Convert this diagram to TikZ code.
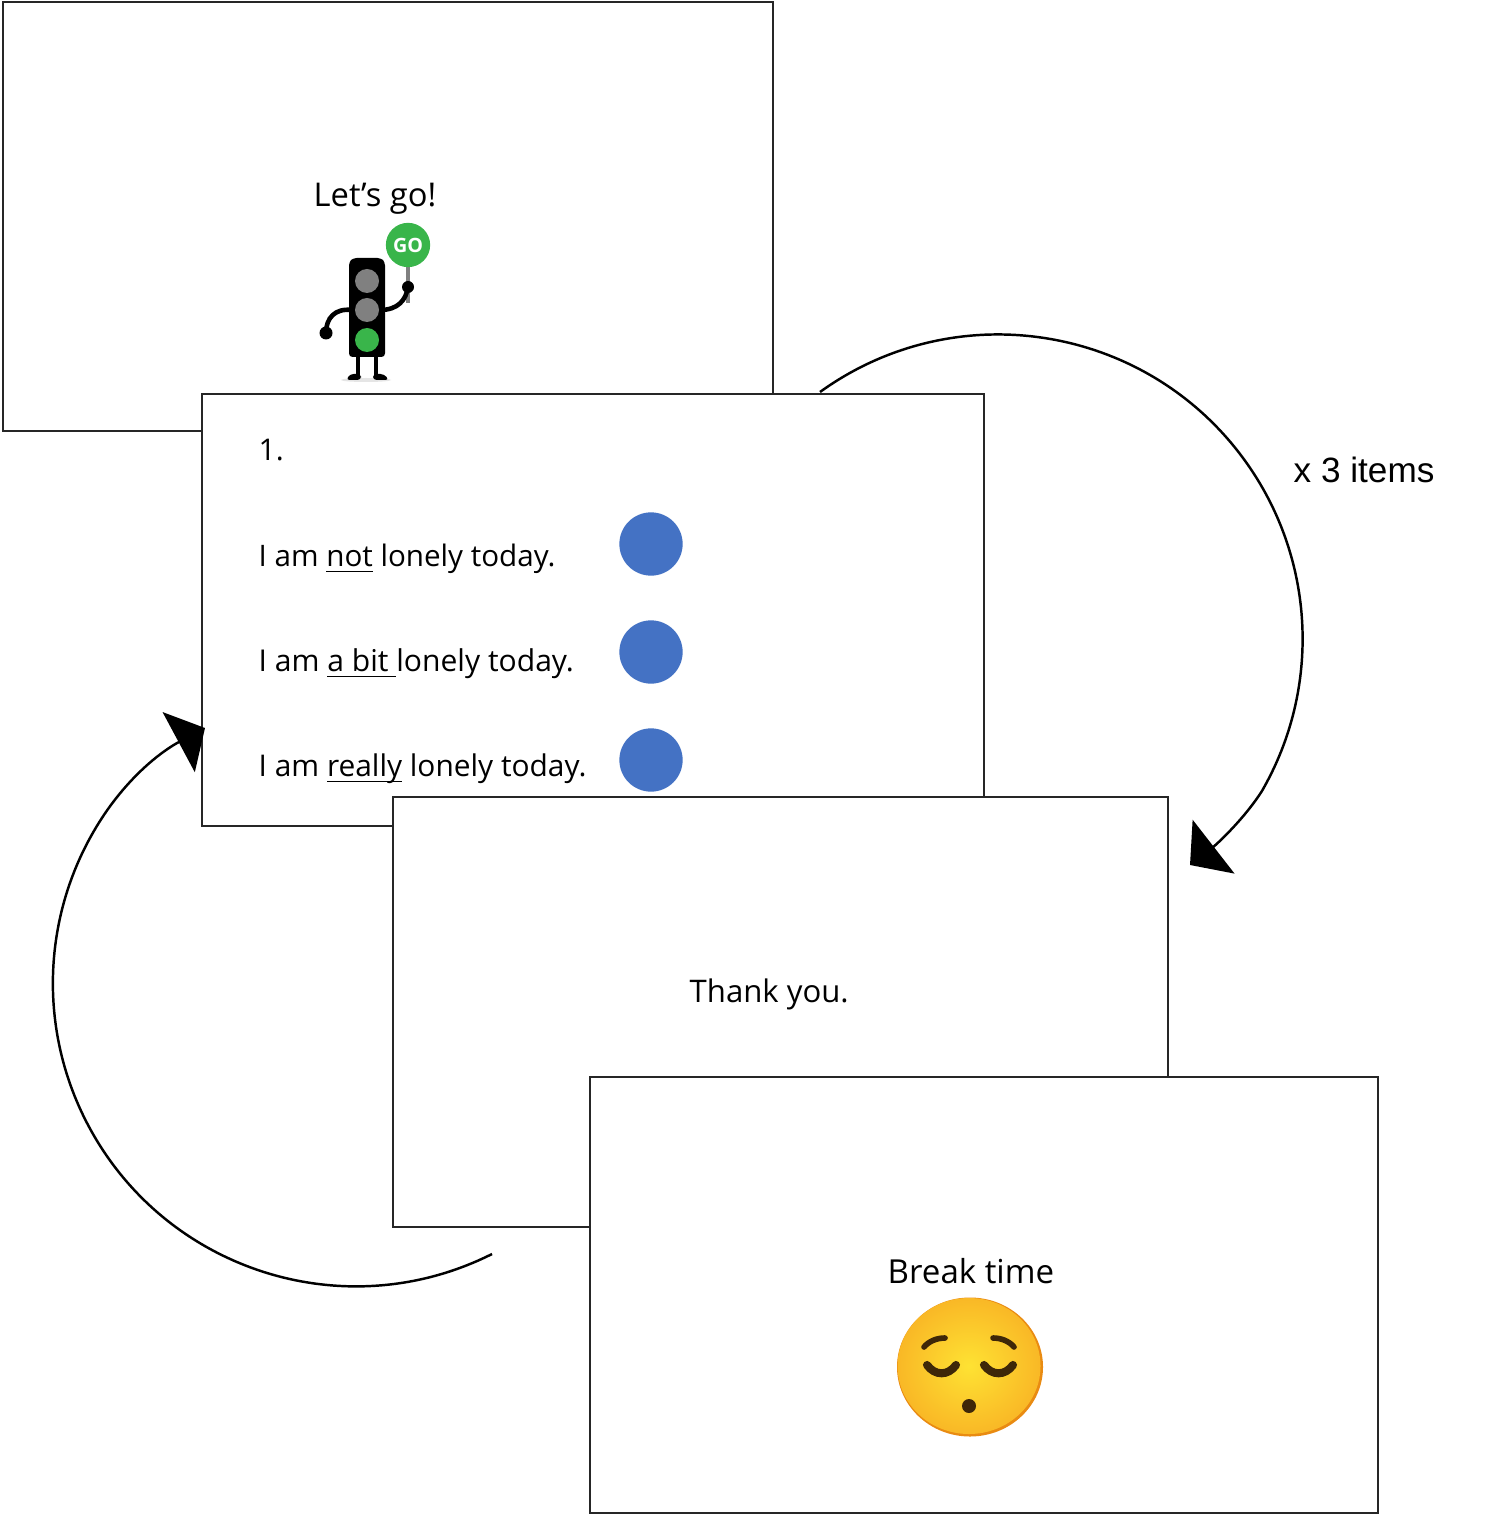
\documentclass[tikz,border=0pt]{standalone}
\usepackage{fontspec}
\setmainfont{Open Sans}
\newfontfamily\labelfont{Liberation Sans}
\usetikzlibrary{arrows.meta,shapes,backgrounds}
\definecolor{dotblue}{HTML}{4472C4}
\definecolor{gogreen}{HTML}{39B54A}
\definecolor{lampgrey}{HTML}{808080}
\definecolor{faceyellow}{HTML}{FEE233}
\definecolor{faceorange}{HTML}{F9B826}
\definecolor{facerim}{HTML}{E98B12}
\definecolor{facebrown}{HTML}{3E2708}
\newcommand{\ulword}[1]{\setbox0=\hbox{#1}\rlap{\rule[-1.8pt]{\wd0}{0.5pt}}\box0\relax}
\tikzset{
  slide/.style={draw=black!85,fill=white,line width=0.6pt,inner sep=0pt,anchor=north west},
  slidetext/.style={anchor=base west,inner sep=0pt,font=\fontsize{#1}{10pt}\selectfont},
  bluedot/.style={circle,fill=dotblue,inner sep=0pt,minimum size=18pt},
  looparrow/.style={line width=0.7pt,-{Triangle[length=8.5pt,width=19.3pt]}},
  faceline/.style={draw=facebrown,line width=1.6pt,line cap=round},
}
\begin{document}
\begin{tikzpicture}[x=0.01cm,y=-0.01cm]
\useasboundingbox (0,0) rectangle (1502,1516);
\node[slide,minimum width=770*0.01cm,minimum height=429*0.01cm] (S1) at (2,1) {};
\node[slidetext=9.3pt] (go) at (313,207) {Let's go!};
% traffic light
\fill[black!10] (366,380) ellipse (25 and 2);
\draw[black,line width=1.4pt] (358,355) -- (358,376);
\draw[black,line width=1.4pt] (376,355) -- (376,376);
\fill[black,rounded corners=1pt] (346,380) -- (350,374) -- (361,374) -- (361,380) -- cycle;
\fill[black,rounded corners=1pt] (373,380) -- (373,374) -- (384,374) -- (389,380) -- cycle;
\draw[lampgrey,line width=0.9pt] (408,262) -- (408,303);
\draw[black,line width=1.3pt] (380,310) .. controls (398,310) and (406,300) .. (408,287);
\draw[black,line width=1.3pt] (352,310) .. controls (335,308) and (326,318) .. (326,333);
\fill[black] (326,333) circle (6.5);
\fill[black] (408,287) circle (6);
\fill[black,rounded corners=1pt] (349,262) -- (353,258) -- (381,258) -- (385,262) -- (385,357) -- (349,357) -- cycle;
\fill[lampgrey] (367,281) circle (12);
\fill[lampgrey] (367,310) circle (12);
\fill[gogreen] (367,340) circle (12);
\node[circle,fill=gogreen,inner sep=0pt,minimum size=12.6pt,text=white,font=\fontsize{5.6pt}{6pt}\selectfont\bfseries] (sign) at (408,245) {GO};
% loop on the right
\coordinate (Rstart) at (820,392);
\coordinate (Rtip) at (1190,865);
\draw[looparrow] (Rstart) arc[start angle=-125.8,end angle=30,radius=304.5] .. controls (1244,819) and (1217,844) .. (Rtip);
\node[slide,minimum width=782*0.01cm,minimum height=432*0.01cm] (S2) at (201,393) {};
\node[slidetext=8.5pt] (num) at (258,461) {1.};
\node[slidetext=8.42pt] (T1) at (258,566) {I am \ulword{not} lonely today.};
\node[slidetext=8.55pt] (T2) at (258,671) {I am \ulword{a bit\ }lonely today.};
\node[slidetext=8.5pt] (T3) at (258,776) {I am \ulword{really} lonely today.};
\node[bluedot] (B1) at (651,544) {};
\node[bluedot] (B2) at (651,652) {};
\node[bluedot] (B3) at (651,760) {};
\node[slide,minimum width=775*0.01cm,minimum height=430*0.01cm] (S3) at (392,796) {};
\node[slidetext=8.85pt] (thanks) at (689,1002) {Thank you.};
\node[slide,minimum width=788*0.01cm,minimum height=436*0.01cm] (S4) at (589,1076) {};
\node[slidetext=9.4pt] (break) at (887,1283) {Break time};
% face
\fill[facerim] (970,1367) ellipse (73 and 69.5);
\shade[inner color=faceyellow,outer color=faceorange] (969,1366) ellipse (71.5 and 68);
\draw[faceline] (924,1347) .. controls (929,1341) and (937,1338) .. (945,1338);
\draw[faceline] (1014,1347) .. controls (1009,1341) and (1001,1338) .. (993,1338);
\draw[faceline,line width=2.3pt] (927,1365) .. controls (935,1376) and (948,1376) .. (956,1365);
\draw[faceline,line width=2.3pt] (984,1365) .. controls (992,1376) and (1005,1376) .. (1013,1365);
\fill[facebrown] (969,1406) circle (7);
% loop on the left
\coordinate (Lstart) at (492,1254);
\coordinate (Ltip) at (205,728);
\draw[looparrow] (Lstart) arc[start angle=63.3,end angle=215,radius=303] .. controls (135,771) and (164,750) .. (Ltip);
\node[anchor=base west,inner sep=0pt,font=\labelfont\fontsize{10pt}{12pt}\selectfont] (times) at (1293,482) {x 3 items};
\end{tikzpicture}
\end{document}
